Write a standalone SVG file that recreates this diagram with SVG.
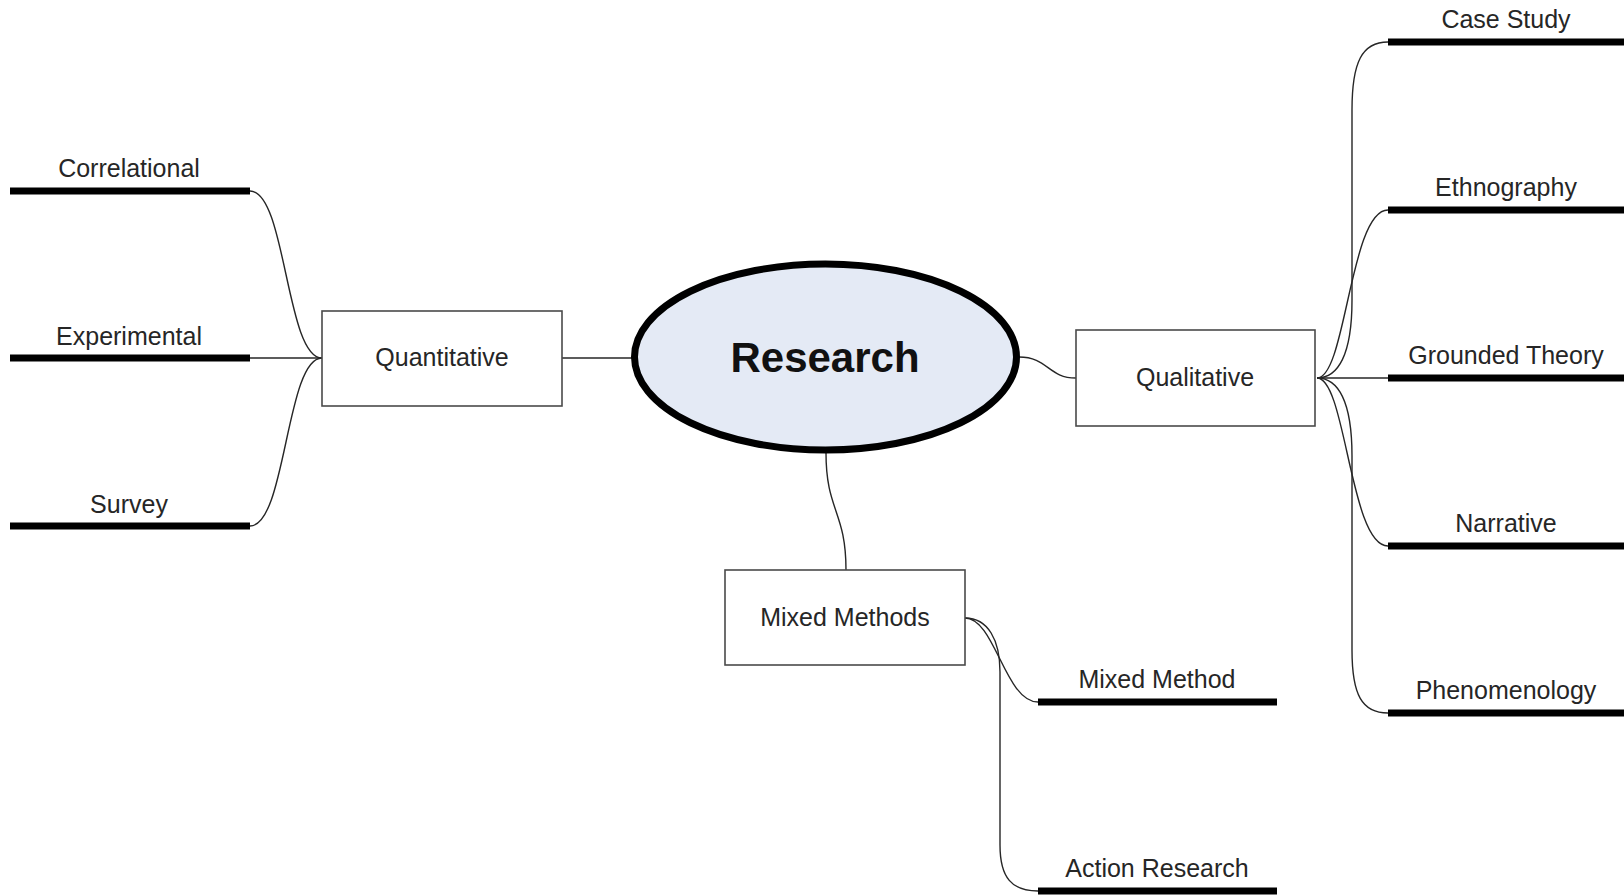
<svg xmlns="http://www.w3.org/2000/svg" width="1624" height="895" viewBox="0 0 1624 895">
<style>
  .lbl { font-family: "Liberation Sans", Arial, sans-serif; font-size: 25px; fill: #262626; text-anchor: middle; }
  .box { fill: #ffffff; stroke: #4a4a4a; stroke-width: 1.6; }
  .bar { stroke: #000000; stroke-width: 7; }
  .con { fill: none; stroke: #262626; stroke-width: 1.4; }
</style>
<rect width="1624" height="895" fill="#ffffff"/>
<g id="connectors">
  <line class="con" x1="562" y1="358" x2="633" y2="358"/>
  <path class="con" d="M1019 357 C1048 357 1048 378 1076 378"/>
  <path class="con" d="M826 453 C826 511 846 511 846 570"/>
  <path class="con" d="M322 358 C286 358 286 191 250 191"/>
  <path class="con" d="M322 358 L250 358"/>
  <path class="con" d="M322 358 C286 358 286 526 250 526"/>
  <path class="con" d="M1317 378 C1338 378 1352 355 1352 300 L1352 110 C1352 62 1362 42 1388 42"/>
  <path class="con" d="M1317 378 C1346 378 1350 210 1388 210"/>
  <path class="con" d="M1317 378 L1388 378"/>
  <path class="con" d="M1317 378 C1346 378 1350 546 1388 546"/>
  <path class="con" d="M1317 378 C1338 378 1352 401 1352 456 L1352 650 C1352 695 1362 713 1388 713"/>
  <path class="con" d="M965 618 C995 618 1005 702 1038 702"/>
  <path class="con" d="M965 618 C988 618 1000 640 1000 672 L1000 845 C1000 878 1012 891 1038 891"/>
</g>
<g id="research">
  <ellipse cx="825.5" cy="357" rx="191" ry="93" fill="#e4eaf5" stroke="#000000" stroke-width="7"/>
  <text x="825" y="372" font-family="'Liberation Sans', Arial, sans-serif" font-size="42" font-weight="bold" fill="#111111" text-anchor="middle">Research</text>
</g>
<g id="quantitative">
  <rect class="box" x="322" y="311" width="240" height="95"/>
  <text class="lbl" x="442" y="366">Quantitative</text>
</g>
<g id="qualitative">
  <rect class="box" x="1076" y="330" width="239" height="96"/>
  <text class="lbl" x="1195" y="386">Qualitative</text>
</g>
<g id="mixed-methods">
  <rect class="box" x="725" y="570" width="240" height="95"/>
  <text class="lbl" x="845" y="626">Mixed Methods</text>
</g>
<g id="correlational">
  <line class="bar" x1="10" y1="191" x2="250" y2="191"/>
  <text class="lbl" x="129" y="177">Correlational</text>
</g>
<g id="experimental">
  <line class="bar" x1="10" y1="358" x2="250" y2="358"/>
  <text class="lbl" x="129" y="345">Experimental</text>
</g>
<g id="survey">
  <line class="bar" x1="10" y1="526" x2="250" y2="526"/>
  <text class="lbl" x="129" y="513">Survey</text>
</g>
<g id="case-study">
  <line class="bar" x1="1388" y1="42" x2="1630" y2="42"/>
  <text class="lbl" x="1506" y="28">Case Study</text>
</g>
<g id="ethnography">
  <line class="bar" x1="1388" y1="210" x2="1630" y2="210"/>
  <text class="lbl" x="1506" y="196">Ethnography</text>
</g>
<g id="grounded-theory">
  <line class="bar" x1="1388" y1="378" x2="1630" y2="378"/>
  <text class="lbl" x="1506" y="364">Grounded Theory</text>
</g>
<g id="narrative">
  <line class="bar" x1="1388" y1="546" x2="1630" y2="546"/>
  <text class="lbl" x="1506" y="532">Narrative</text>
</g>
<g id="phenomenology">
  <line class="bar" x1="1388" y1="713" x2="1630" y2="713"/>
  <text class="lbl" x="1506" y="699">Phenomenology</text>
</g>
<g id="mixed-method">
  <line class="bar" x1="1038" y1="702" x2="1277" y2="702"/>
  <text class="lbl" x="1157" y="688">Mixed Method</text>
</g>
<g id="action-research">
  <line class="bar" x1="1038" y1="891" x2="1277" y2="891"/>
  <text class="lbl" x="1157" y="877">Action Research</text>
</g>
</svg>
